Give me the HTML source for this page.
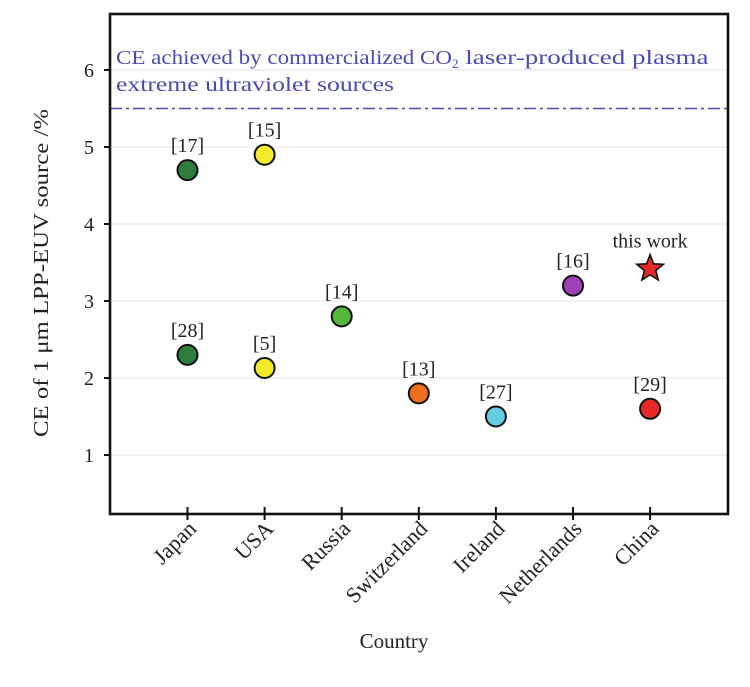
<!DOCTYPE html>
<html><head><meta charset="utf-8"><style>
body{margin:0;background:#fff;}
svg text{font-family:"Liberation Serif","DejaVu Serif",serif;}
</style></head><body>
<svg width="750" height="682" id="chart" xmlns="http://www.w3.org/2000/svg"></svg>
<script>
const countries=["Japan","USA","Russia","Switzerland","Ireland","Netherlands","China"];
const pointCat=[0,0,1,1,2,3,4,5,6];
const pointVals=[4.7,2.3,4.9,2.13,2.8,1.8,1.5,3.2,1.6];
const pointRefs=["[17]","[28]","[15]","[5]","[14]","[13]","[27]","[16]","[29]"];
const pointColors=["#2e7d3a","#2e7d3a","#f3ea2a","#f3ea2a","#55b83a","#f07020","#62cde0","#a040b8","#e82828"];
const yTicks=[1,2,3,4,5,6];
const thisWorkCat=6, thisWorkVal=3.42;
const refLine=5.5;

const svg=document.getElementById('chart');
const NS='http://www.w3.org/2000/svg';
const L=110,R=728,T=14,B=514;
function x(i){return 187.5+i*77.1;}
function y(v){return 455-(v-1)*77;}
function mk(tag,attrs,parent){const e=document.createElementNS(NS,tag);for(const k in attrs)e.setAttribute(k,attrs[k]);(parent||svg).appendChild(e);return e;}

yTicks.forEach(v=>{
  const g=mk('line',{x1:L,x2:R,y1:y(v),y2:y(v),stroke:'#e4e4e4','stroke-width':1});
  
  
  const t=mk('line',{x1:L-6,x2:L,y1:y(v),y2:y(v),stroke:'#111','stroke-width':2});
  
  
  const tx=mk('text',{x:L-16,y:y(v)+7,'text-anchor':'end','font-size':20,fill:'#222'});
  tx.textContent=v;
  
  
});
const rl=mk('line',{x1:L,x2:R,y1:y(refLine),y2:y(refLine),stroke:'#4a4ab0','stroke-width':1.6,'stroke-dasharray':'12 4 3 4'});


const a1=mk('text',{x:116,y:64,'font-size':20,fill:'#4a4ab0'});
a1.innerHTML='<tspan textLength="336" lengthAdjust="spacingAndGlyphs">CE achieved by commercialized CO</tspan><tspan font-size="13" dy="4">2</tspan><tspan dy="-4" textLength="250" lengthAdjust="spacingAndGlyphs"> laser-produced plasma</tspan>';


const a2=mk('text',{x:116,y:91,'font-size':20,fill:'#4a4ab0',textLength:278,lengthAdjust:'spacingAndGlyphs'});
a2.textContent='extreme ultraviolet sources';



countries.forEach((c,i)=>{
  const t=mk('line',{x1:x(i),x2:x(i),y1:B-7,y2:B+6,stroke:'#111','stroke-width':2});
  
  
  const tx=mk('text',{x:0,y:0,'text-anchor':'end','font-size':22,fill:'#222',transform:`translate(${x(i)+10},${B+16}) rotate(-45)`});
  tx.textContent=c;
  
  
});

pointVals.forEach((v,k)=>{
  const cx=x(pointCat[k]),cy=y(v);
  const c=mk('circle',{cx:cx,cy:cy,r:10,fill:pointColors[k],stroke:'#111','stroke-width':2});
  
  
  const t=mk('text',{x:cx,y:cy-18,'text-anchor':'middle','font-size':20,fill:'#222'});
  t.textContent=pointRefs[k];
  
  
});

(function(){
  const cx=x(thisWorkCat),cy=y(thisWorkVal);let p='';
  for(let i=0;i<10;i++){const r=i%2?6:14;const a=-Math.PI/2+i*Math.PI/5;p+=(cx+r*Math.cos(a)).toFixed(1)+','+(cy+r*Math.sin(a)).toFixed(1)+' ';}
  const s=mk('polygon',{points:p,fill:'#e82828',stroke:'#111','stroke-width':1.6});
  
  
  const t=mk('text',{x:cx,y:cy-21,'text-anchor':'middle','font-size':20,fill:'#222'});
  t.textContent='this work';
  
  
})();

const fr=mk('rect',{x:L,y:T,width:R-L,height:B-T,fill:'none',stroke:'#111','stroke-width':2.6});


const xt=mk('text',{x:394,y:648,'text-anchor':'middle','font-size':21,fill:'#222'});
xt.textContent='Country';


const yt=mk('text',{x:0,y:0,'text-anchor':'middle','font-size':21,fill:'#222',transform:'translate(48,273) rotate(-90)',textLength:328,lengthAdjust:'spacingAndGlyphs'});
yt.textContent='CE of 1 μm LPP-EUV source /%';


</script>
</body></html>
